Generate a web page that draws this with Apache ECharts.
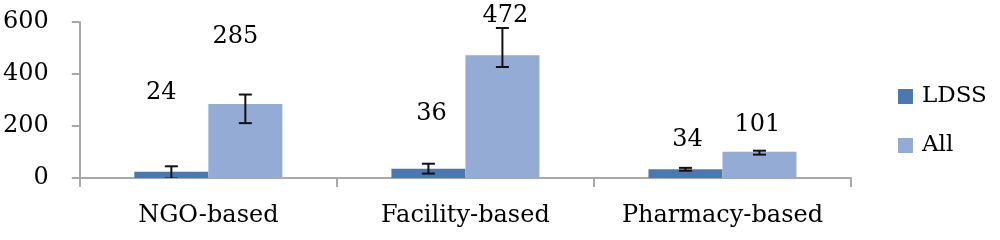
<!DOCTYPE html>
<html>
<head>
<meta charset="utf-8">
<script src="https://cdn.jsdelivr.net/npm/echarts@6/dist/echarts.min.js"></script>
<style>
  html, body { margin: 0; padding: 0; background: #fff; }
  #chart { width: 1000px; height: 240px; }
</style>
</head>
<body>
<div id="chart"></div>
<script>
// data
const categories = ['NGO-based', 'Facility-based', 'Pharmacy-based']
const ldss = [24, 36, 34]
const all = [285, 472, 101]
const ldssLow = [-2, 17, 28]
const ldssHigh = [45, 55, 39]
const allLow = [211, 427, 90]
const allHigh = [321, 577, 105]
const yTicks = [0, 200, 400, 600]

// label placement relative to bar top (dx, dy), as in the original
const ldssLabelOffsets = [[-10, -79], [3, -55], [2, -29]]
const allLabelOffsets = [[-10, -67], [3, -40], [-2, -27]]

const FONT = 'DejaVu Serif'
const BAR_W = 74
const AXIS_COLOR = '#a9a9a9'
const TEXT_COLOR = '#000'

const chart = echarts.init(document.getElementById('chart'))

const barData = (values, offsets) => values.map((v, i) => ({
  value: v,
  label: { offset: offsets[i] }
}))

// error bar drawn with a custom series, shifted to the bar's side
const errorSeries = (name, lows, highs, side) => ({
  type: 'custom',
  name: name,
  clip: true,
  z: 10,
  encode: { x: 0, y: [1, 2] },
  data: categories.map((c, i) => [i, lows[i], highs[i]]),
  renderItem: (params, api) => {
    const i = api.value(0)
    const lo = api.coord([i, api.value(1)])
    const hi = api.coord([i, api.value(2)])
    const cx = lo[0] + side * BAR_W / 2
    const cap = 6.5
    const style = { stroke: '#111', lineWidth: 2 }
    return {
      type: 'group',
      children: [
        { type: 'line', shape: { x1: cx, y1: lo[1], x2: cx, y2: hi[1] }, style: style },
        { type: 'line', shape: { x1: cx - cap, y1: hi[1], x2: cx + cap, y2: hi[1] }, style: style },
        { type: 'line', shape: { x1: cx - cap, y1: lo[1], x2: cx + cap, y2: lo[1] }, style: style }
      ]
    }
  }
})

const labelStyle = {
  show: true,
  position: 'top',
  distance: 0,
  verticalAlign: 'middle',
  fontFamily: FONT,
  fontSize: 24,
  color: TEXT_COLOR
}

const option = {
  animation: false,
  grid: { left: 78, right: 149, top: 22, bottom: 62 },
  legend: {
    data: ['LDSS', 'All'],
    orient: 'vertical',
    left: 893,
    top: 80,
    icon: 'rect',
    itemWidth: 15,
    itemHeight: 15,
    itemGap: 26,
    textStyle: { fontFamily: FONT, fontSize: 23, color: TEXT_COLOR, padding: [0, 0, 0, 4] }
  },
  xAxis: {
    type: 'category',
    data: categories,
    axisLine: { lineStyle: { color: AXIS_COLOR, width: 2 } },
    axisTick: { show: true, length: 9, interval: 0, lineStyle: { color: AXIS_COLOR, width: 2 } },
    axisLabel: { fontFamily: FONT, fontSize: 24, color: TEXT_COLOR, margin: 26, interval: 0 }
  },
  yAxis: {
    type: 'value',
    min: yTicks[0],
    max: yTicks[yTicks.length - 1],
    interval: yTicks[1] - yTicks[0],
    splitLine: { show: false },
    axisLine: { show: true, lineStyle: { color: AXIS_COLOR, width: 2 } },
    axisTick: { show: true, length: 8, lineStyle: { color: AXIS_COLOR, width: 2 } },
    axisLabel: { fontFamily: FONT, fontSize: 24, color: TEXT_COLOR, margin: 31 }
  },
  series: [
    {
      name: 'LDSS',
      type: 'bar',
      barWidth: BAR_W,
      barGap: '0%',
      itemStyle: { color: '#4a78b2' },
      label: labelStyle,
      data: barData(ldss, ldssLabelOffsets)
    },
    {
      name: 'All',
      type: 'bar',
      barWidth: BAR_W,
      barGap: '0%',
      itemStyle: { color: '#93abd5' },
      label: labelStyle,
      data: barData(all, allLabelOffsets)
    },
    errorSeries('LDSS error', ldssLow, ldssHigh, -1),
    errorSeries('All error', allLow, allHigh, 1)
  ]
}

chart.setOption(option)
</script>
</body>
</html>
